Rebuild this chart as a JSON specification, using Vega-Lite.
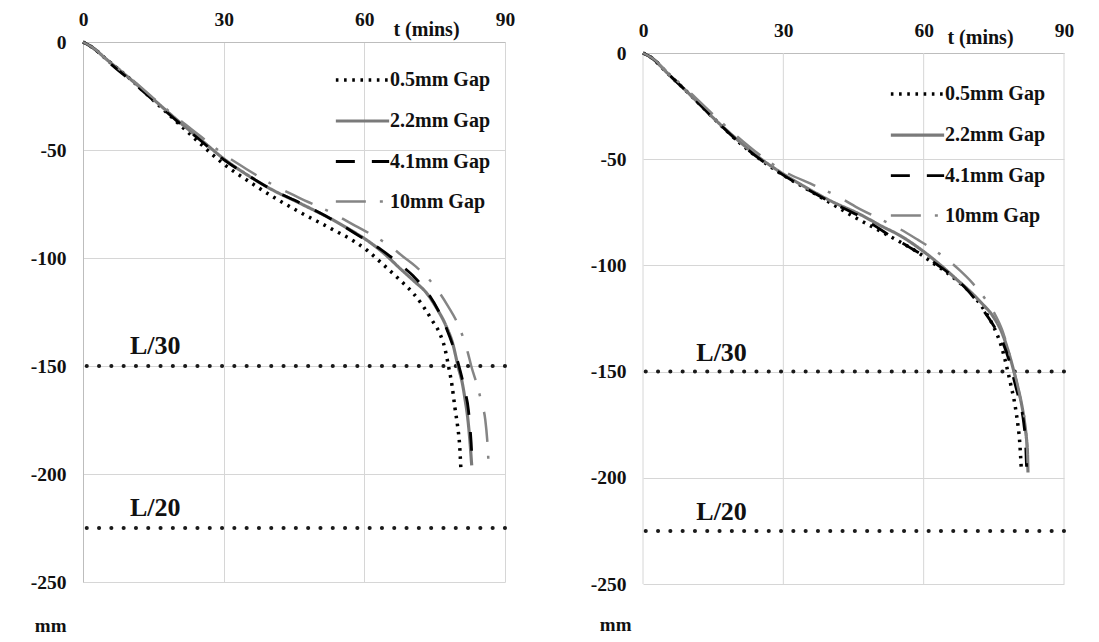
{
  "$schema": "https://vega.github.io/schema/vega-lite/v6.json",
  "background": "white",
  "padding": {"left": 30, "top": 9, "right": 0, "bottom": 0},
  "spacing": 75,
  "resolve": {
    "scale": {"color": "independent", "strokeDash": "independent", "strokeWidth": "independent"},
    "legend": {"color": "independent", "strokeDash": "independent", "strokeWidth": "independent"}
  },
  "config": {
    "view": {"stroke": null},
    "font": "Liberation Serif",
    "text": {"font": "Liberation Serif"}
  },
  "datasets": {
    "lim": [
      {"mm": -150, "label": "L/30"},
      {"mm": -225, "label": "L/20"}
    ],
    "vg": [{"t": 0}, {"t": 30}, {"t": 60}, {"t": 90}],
    "L": [
      {"s": "0.5mm Gap", "t": 0, "mm": 0}, {"s": "0.5mm Gap", "t": 2, "mm": -2.5}, {"s": "0.5mm Gap", "t": 5, "mm": -8}, {"s": "0.5mm Gap", "t": 10, "mm": -17}, {"s": "0.5mm Gap", "t": 15, "mm": -27}, {"s": "0.5mm Gap", "t": 20, "mm": -37}, {"s": "0.5mm Gap", "t": 25, "mm": -47}, {"s": "0.5mm Gap", "t": 30, "mm": -56.5}, {"s": "0.5mm Gap", "t": 35, "mm": -64}, {"s": "0.5mm Gap", "t": 40, "mm": -71}, {"s": "0.5mm Gap", "t": 46, "mm": -78.5}, {"s": "0.5mm Gap", "t": 53, "mm": -86.5}, {"s": "0.5mm Gap", "t": 58, "mm": -92.5}, {"s": "0.5mm Gap", "t": 60.5, "mm": -96.3}, {"s": "0.5mm Gap", "t": 64, "mm": -103}, {"s": "0.5mm Gap", "t": 67.6, "mm": -110.2}, {"s": "0.5mm Gap", "t": 70.5, "mm": -116.5}, {"s": "0.5mm Gap", "t": 72.6, "mm": -122.5}, {"s": "0.5mm Gap", "t": 74.5, "mm": -129}, {"s": "0.5mm Gap", "t": 76.1, "mm": -135}, {"s": "0.5mm Gap", "t": 77.2, "mm": -142}, {"s": "0.5mm Gap", "t": 77.9, "mm": -149.5}, {"s": "0.5mm Gap", "t": 78.7, "mm": -159}, {"s": "0.5mm Gap", "t": 79.3, "mm": -169}, {"s": "0.5mm Gap", "t": 79.9, "mm": -178}, {"s": "0.5mm Gap", "t": 80.3, "mm": -186}, {"s": "0.5mm Gap", "t": 80.6, "mm": -198},
      {"s": "2.2mm Gap", "t": 0, "mm": 0}, {"s": "2.2mm Gap", "t": 2, "mm": -2.5}, {"s": "2.2mm Gap", "t": 5, "mm": -8}, {"s": "2.2mm Gap", "t": 10, "mm": -17}, {"s": "2.2mm Gap", "t": 15, "mm": -26.5}, {"s": "2.2mm Gap", "t": 20, "mm": -36}, {"s": "2.2mm Gap", "t": 25, "mm": -45}, {"s": "2.2mm Gap", "t": 30, "mm": -54}, {"s": "2.2mm Gap", "t": 35, "mm": -61.5}, {"s": "2.2mm Gap", "t": 40, "mm": -68}, {"s": "2.2mm Gap", "t": 46.3, "mm": -74.7}, {"s": "2.2mm Gap", "t": 53.4, "mm": -82.5}, {"s": "2.2mm Gap", "t": 57, "mm": -87}, {"s": "2.2mm Gap", "t": 60.5, "mm": -91.7}, {"s": "2.2mm Gap", "t": 64, "mm": -97.5}, {"s": "2.2mm Gap", "t": 67.6, "mm": -104.8}, {"s": "2.2mm Gap", "t": 70.5, "mm": -110.5}, {"s": "2.2mm Gap", "t": 73.3, "mm": -116.3}, {"s": "2.2mm Gap", "t": 75.5, "mm": -123.5}, {"s": "2.2mm Gap", "t": 77.5, "mm": -131.8}, {"s": "2.2mm Gap", "t": 78.9, "mm": -140}, {"s": "2.2mm Gap", "t": 80, "mm": -150.3}, {"s": "2.2mm Gap", "t": 80.9, "mm": -158}, {"s": "2.2mm Gap", "t": 81.5, "mm": -165.7}, {"s": "2.2mm Gap", "t": 82.1, "mm": -175}, {"s": "2.2mm Gap", "t": 82.5, "mm": -184.3}, {"s": "2.2mm Gap", "t": 82.9, "mm": -196},
      {"s": "4.1mm Gap", "t": 0, "mm": 0}, {"s": "4.1mm Gap", "t": 2, "mm": -2.5}, {"s": "4.1mm Gap", "t": 5, "mm": -8.5}, {"s": "4.1mm Gap", "t": 10, "mm": -17.5}, {"s": "4.1mm Gap", "t": 15, "mm": -27}, {"s": "4.1mm Gap", "t": 20, "mm": -36.5}, {"s": "4.1mm Gap", "t": 25, "mm": -45.5}, {"s": "4.1mm Gap", "t": 30, "mm": -54.5}, {"s": "4.1mm Gap", "t": 35, "mm": -61.5}, {"s": "4.1mm Gap", "t": 40, "mm": -68}, {"s": "4.1mm Gap", "t": 46.3, "mm": -74.5}, {"s": "4.1mm Gap", "t": 53.4, "mm": -82.5}, {"s": "4.1mm Gap", "t": 59.8, "mm": -91}, {"s": "4.1mm Gap", "t": 63.5, "mm": -96}, {"s": "4.1mm Gap", "t": 66.9, "mm": -101.7}, {"s": "4.1mm Gap", "t": 70.5, "mm": -108.5}, {"s": "4.1mm Gap", "t": 73.3, "mm": -115.5}, {"s": "4.1mm Gap", "t": 75.7, "mm": -124}, {"s": "4.1mm Gap", "t": 77.5, "mm": -132.5}, {"s": "4.1mm Gap", "t": 79.1, "mm": -142}, {"s": "4.1mm Gap", "t": 80.4, "mm": -151.9}, {"s": "4.1mm Gap", "t": 81.4, "mm": -161}, {"s": "4.1mm Gap", "t": 82.2, "mm": -170.4}, {"s": "4.1mm Gap", "t": 82.6, "mm": -180}, {"s": "4.1mm Gap", "t": 82.9, "mm": -190.4}, {"s": "4.1mm Gap", "t": 83.0, "mm": -196},
      {"s": "10mm Gap", "t": 0, "mm": 0}, {"s": "10mm Gap", "t": 2, "mm": -2.5}, {"s": "10mm Gap", "t": 5, "mm": -8}, {"s": "10mm Gap", "t": 10, "mm": -16.5}, {"s": "10mm Gap", "t": 15, "mm": -26}, {"s": "10mm Gap", "t": 20, "mm": -35}, {"s": "10mm Gap", "t": 25, "mm": -43.5}, {"s": "10mm Gap", "t": 30, "mm": -52}, {"s": "10mm Gap", "t": 35, "mm": -59}, {"s": "10mm Gap", "t": 40, "mm": -65.5}, {"s": "10mm Gap", "t": 46, "mm": -72}, {"s": "10mm Gap", "t": 53, "mm": -79}, {"s": "10mm Gap", "t": 58, "mm": -85}, {"s": "10mm Gap", "t": 62.3, "mm": -90.1}, {"s": "10mm Gap", "t": 65.5, "mm": -94.5}, {"s": "10mm Gap", "t": 68.3, "mm": -99.4}, {"s": "10mm Gap", "t": 71, "mm": -104}, {"s": "10mm Gap", "t": 73.6, "mm": -109.4}, {"s": "10mm Gap", "t": 76, "mm": -116}, {"s": "10mm Gap", "t": 77.9, "mm": -122.5}, {"s": "10mm Gap", "t": 79.6, "mm": -129}, {"s": "10mm Gap", "t": 81.1, "mm": -137}, {"s": "10mm Gap", "t": 82.1, "mm": -144}, {"s": "10mm Gap", "t": 82.8, "mm": -150}, {"s": "10mm Gap", "t": 84.2, "mm": -160}, {"s": "10mm Gap", "t": 85.0, "mm": -167}, {"s": "10mm Gap", "t": 85.8, "mm": -175}, {"s": "10mm Gap", "t": 86.2, "mm": -184}, {"s": "10mm Gap", "t": 86.4, "mm": -191}, {"s": "10mm Gap", "t": 86.5, "mm": -197}
    ],
    "R": [
      {"s": "0.5mm Gap", "t": 0, "mm": 0}, {"s": "0.5mm Gap", "t": 2, "mm": -2.5}, {"s": "0.5mm Gap", "t": 5, "mm": -9}, {"s": "0.5mm Gap", "t": 10, "mm": -19.5}, {"s": "0.5mm Gap", "t": 15, "mm": -30.5}, {"s": "0.5mm Gap", "t": 20, "mm": -41}, {"s": "0.5mm Gap", "t": 25, "mm": -50}, {"s": "0.5mm Gap", "t": 30, "mm": -57.5}, {"s": "0.5mm Gap", "t": 35, "mm": -64}, {"s": "0.5mm Gap", "t": 40, "mm": -70.5}, {"s": "0.5mm Gap", "t": 45, "mm": -77}, {"s": "0.5mm Gap", "t": 50, "mm": -83}, {"s": "0.5mm Gap", "t": 55, "mm": -89}, {"s": "0.5mm Gap", "t": 58.5, "mm": -93.5}, {"s": "0.5mm Gap", "t": 62.1, "mm": -99}, {"s": "0.5mm Gap", "t": 65, "mm": -103.5}, {"s": "0.5mm Gap", "t": 67.8, "mm": -108.4}, {"s": "0.5mm Gap", "t": 70.5, "mm": -114}, {"s": "0.5mm Gap", "t": 72.7, "mm": -120.2}, {"s": "0.5mm Gap", "t": 74.3, "mm": -126}, {"s": "0.5mm Gap", "t": 75.6, "mm": -132}, {"s": "0.5mm Gap", "t": 76.6, "mm": -138}, {"s": "0.5mm Gap", "t": 77.4, "mm": -144.5}, {"s": "0.5mm Gap", "t": 78.1, "mm": -151}, {"s": "0.5mm Gap", "t": 78.7, "mm": -157}, {"s": "0.5mm Gap", "t": 79.3, "mm": -163}, {"s": "0.5mm Gap", "t": 79.8, "mm": -169.6}, {"s": "0.5mm Gap", "t": 80.2, "mm": -176}, {"s": "0.5mm Gap", "t": 80.5, "mm": -182.2}, {"s": "0.5mm Gap", "t": 80.7, "mm": -189}, {"s": "0.5mm Gap", "t": 80.9, "mm": -197},
      {"s": "2.2mm Gap", "t": 0, "mm": 0}, {"s": "2.2mm Gap", "t": 2, "mm": -2.5}, {"s": "2.2mm Gap", "t": 5, "mm": -9}, {"s": "2.2mm Gap", "t": 10, "mm": -19.5}, {"s": "2.2mm Gap", "t": 15, "mm": -30.5}, {"s": "2.2mm Gap", "t": 20, "mm": -40.5}, {"s": "2.2mm Gap", "t": 25, "mm": -49.5}, {"s": "2.2mm Gap", "t": 30, "mm": -57}, {"s": "2.2mm Gap", "t": 35, "mm": -63.5}, {"s": "2.2mm Gap", "t": 40, "mm": -69.5}, {"s": "2.2mm Gap", "t": 46.4, "mm": -76}, {"s": "2.2mm Gap", "t": 51, "mm": -81.5}, {"s": "2.2mm Gap", "t": 55, "mm": -86}, {"s": "2.2mm Gap", "t": 60, "mm": -93.5}, {"s": "2.2mm Gap", "t": 64.2, "mm": -101}, {"s": "2.2mm Gap", "t": 67, "mm": -106.5}, {"s": "2.2mm Gap", "t": 69.8, "mm": -112}, {"s": "2.2mm Gap", "t": 72.5, "mm": -118}, {"s": "2.2mm Gap", "t": 74.9, "mm": -124.2}, {"s": "2.2mm Gap", "t": 76.8, "mm": -132}, {"s": "2.2mm Gap", "t": 78.3, "mm": -142}, {"s": "2.2mm Gap", "t": 79.3, "mm": -150}, {"s": "2.2mm Gap", "t": 80.1, "mm": -157.1}, {"s": "2.2mm Gap", "t": 80.9, "mm": -165}, {"s": "2.2mm Gap", "t": 81.5, "mm": -172.8}, {"s": "2.2mm Gap", "t": 81.9, "mm": -180}, {"s": "2.2mm Gap", "t": 82.2, "mm": -188.5}, {"s": "2.2mm Gap", "t": 82.3, "mm": -197.5},
      {"s": "4.1mm Gap", "t": 0, "mm": 0}, {"s": "4.1mm Gap", "t": 2, "mm": -2.5}, {"s": "4.1mm Gap", "t": 5, "mm": -9}, {"s": "4.1mm Gap", "t": 10, "mm": -19.5}, {"s": "4.1mm Gap", "t": 15, "mm": -30.5}, {"s": "4.1mm Gap", "t": 20, "mm": -41}, {"s": "4.1mm Gap", "t": 25, "mm": -50}, {"s": "4.1mm Gap", "t": 30, "mm": -57.5}, {"s": "4.1mm Gap", "t": 35, "mm": -64}, {"s": "4.1mm Gap", "t": 40, "mm": -70}, {"s": "4.1mm Gap", "t": 46.4, "mm": -77}, {"s": "4.1mm Gap", "t": 50, "mm": -82}, {"s": "4.1mm Gap", "t": 53.5, "mm": -87}, {"s": "4.1mm Gap", "t": 57, "mm": -91.5}, {"s": "4.1mm Gap", "t": 60, "mm": -95.5}, {"s": "4.1mm Gap", "t": 63.3, "mm": -100.3}, {"s": "4.1mm Gap", "t": 66.3, "mm": -105.3}, {"s": "4.1mm Gap", "t": 69.5, "mm": -112}, {"s": "4.1mm Gap", "t": 72.7, "mm": -121}, {"s": "4.1mm Gap", "t": 75, "mm": -128.5}, {"s": "4.1mm Gap", "t": 77, "mm": -136.7}, {"s": "4.1mm Gap", "t": 78.3, "mm": -145}, {"s": "4.1mm Gap", "t": 79.5, "mm": -155.5}, {"s": "4.1mm Gap", "t": 80.6, "mm": -165}, {"s": "4.1mm Gap", "t": 81.4, "mm": -174.3}, {"s": "4.1mm Gap", "t": 81.8, "mm": -184}, {"s": "4.1mm Gap", "t": 82.0, "mm": -194.8}, {"s": "4.1mm Gap", "t": 82.1, "mm": -198},
      {"s": "10mm Gap", "t": 0, "mm": 0}, {"s": "10mm Gap", "t": 2, "mm": -2.5}, {"s": "10mm Gap", "t": 5, "mm": -8.5}, {"s": "10mm Gap", "t": 10, "mm": -18.5}, {"s": "10mm Gap", "t": 15, "mm": -29}, {"s": "10mm Gap", "t": 20, "mm": -39}, {"s": "10mm Gap", "t": 25, "mm": -48}, {"s": "10mm Gap", "t": 30, "mm": -55.5}, {"s": "10mm Gap", "t": 36.7, "mm": -62.4}, {"s": "10mm Gap", "t": 42, "mm": -68}, {"s": "10mm Gap", "t": 46.4, "mm": -73.5}, {"s": "10mm Gap", "t": 51, "mm": -78.5}, {"s": "10mm Gap", "t": 55, "mm": -83}, {"s": "10mm Gap", "t": 58.8, "mm": -88}, {"s": "10mm Gap", "t": 62.2, "mm": -92.7}, {"s": "10mm Gap", "t": 65.2, "mm": -97.5}, {"s": "10mm Gap", "t": 67.8, "mm": -102.5}, {"s": "10mm Gap", "t": 70.3, "mm": -108}, {"s": "10mm Gap", "t": 72.7, "mm": -114.4}, {"s": "10mm Gap", "t": 75, "mm": -122}, {"s": "10mm Gap", "t": 76.8, "mm": -130.5}, {"s": "10mm Gap", "t": 78.1, "mm": -139.8}, {"s": "10mm Gap", "t": 79.1, "mm": -148}, {"s": "10mm Gap", "t": 79.9, "mm": -155}, {"s": "10mm Gap", "t": 80.8, "mm": -164}, {"s": "10mm Gap", "t": 81.4, "mm": -170}, {"s": "10mm Gap", "t": 81.8, "mm": -176}, {"s": "10mm Gap", "t": 82.1, "mm": -186}, {"s": "10mm Gap", "t": 82.3, "mm": -197.5}
    ]
  },
  "hconcat": [
    {
      "width": 422,
      "height": 540,
      "layer": [
        {
          "data": {"name": "lim"},
          "mark": {"type": "rule", "color": "#1a1a1a", "strokeWidth": 4, "strokeDash": [0.1, 12.2], "strokeCap": "round"},
          "encoding": {"y": {"field": "mm", "type": "quantitative"}}
        },
        {
          "data": {"name": "lim"},
          "mark": {"type": "text", "fontSize": 26, "fontWeight": "bold", "color": "#111", "dy": -20, "align": "center", "baseline": "middle"},
          "encoding": {
            "x": {"datum": 15.4, "type": "quantitative"},
            "y": {"field": "mm", "type": "quantitative"},
            "text": {"field": "label"}
          }
        },
        {
          "data": {"name": "L"},
          "mark": {"type": "line", "interpolate": "monotone", "strokeCap": "butt", "strokeJoin": "round"},
          "encoding": {
            "x": {"field": "t", "type": "quantitative", "scale": {"domain": [0, 90], "nice": false},
              "axis": {"orient": "top", "values": [0, 30, 60, 90], "grid": true, "gridColor": "#d6d6d6", "domainColor": "#bdbdbd", "ticks": false, "tickSize": 0, "labelFont": "Liberation Serif", "labelFontSize": 19.5, "labelFontWeight": "bold", "labelColor": "#111", "labelPadding": 17, "labelBaseline": "alphabetic", "labelFlush": false, "title": "t (mins)", "titleFont": "Liberation Serif", "titleFontSize": 20, "titleFontWeight": "bold", "titleColor": "#111", "titleX": 343, "titleY": -13, "titleAlign": "center", "titleBaseline": "middle", "titleAngle": 0}},
            "y": {"field": "mm", "type": "quantitative", "scale": {"domain": [-250, 0], "nice": false, "zero": false},
              "axis": {"values": [0, -50, -100, -150, -200, -250], "labelExpr": "'' + datum.value", "grid": true, "gridColor": "#d6d6d6", "domainColor": "#bdbdbd", "ticks": false, "tickSize": 0, "labelFont": "Liberation Serif", "labelFontSize": 19.5, "labelFontWeight": "bold", "labelColor": "#111", "labelPadding": 17, "title": "mm", "titleFont": "Liberation Serif", "titleFontSize": 19, "titleFontWeight": "bold", "titleColor": "#111", "titleAngle": 0, "titleX": -17, "titleY": 583, "titleAlign": "right", "titleBaseline": "middle"}},
            "color": {"field": "s", "type": "nominal", "scale": {"domain": ["0.5mm Gap", "2.2mm Gap", "4.1mm Gap", "10mm Gap"], "range": ["#000000", "#7a7a7a", "#000000", "#858585"]},
              "legend": {"title": null, "orient": "none", "legendX": 253, "legendY": 11.5, "symbolType": "M-1.3,0L1.3,0", "symbolSize": 1681, "labelFont": "Liberation Serif", "labelFontSize": 20, "labelFontWeight": "bold", "labelColor": "#111", "rowPadding": 8, "labelOffset": 5, "padding": 4}},
            "strokeDash": {"field": "s", "type": "nominal", "scale": {"domain": ["0.5mm Gap", "2.2mm Gap", "4.1mm Gap", "10mm Gap"], "range": [[2.6, 5.6], [1, 0], [19, 17], [30, 14, 3, 16]]},
              "legend": {"title": null, "orient": "none", "legendX": 253, "legendY": 11.5, "symbolType": "M-1.3,0L1.3,0", "symbolSize": 1681, "labelFont": "Liberation Serif", "labelFontSize": 20, "labelFontWeight": "bold", "labelColor": "#111", "rowPadding": 8, "labelOffset": 5, "padding": 4}},
            "strokeWidth": {"field": "s", "type": "nominal", "scale": {"domain": ["0.5mm Gap", "2.2mm Gap", "4.1mm Gap", "10mm Gap"], "range": [3.5, 2.5, 5.5, 3]},
              "legend": {"title": null, "orient": "none", "legendX": 253, "legendY": 11.5, "symbolType": "M-1.3,0L1.3,0", "symbolSize": 1681, "labelFont": "Liberation Serif", "labelFontSize": 20, "labelFontWeight": "bold", "labelColor": "#111", "rowPadding": 8, "labelOffset": 5, "padding": 4}}
          }
        }
      ]
    },
    {
      "width": 421,
      "height": 542,
      "layer": [
        {
          "data": {"name": "vg"},
          "mark": {"type": "rule", "color": "#d6d6d6", "strokeWidth": 1},
          "encoding": {
            "x": {"field": "t", "type": "quantitative"},
            "y": {"datum": 0, "type": "quantitative"},
            "y2": {"datum": -250}
          }
        },
        {
          "data": {"name": "lim"},
          "mark": {"type": "rule", "color": "#1a1a1a", "strokeWidth": 4, "strokeDash": [0.1, 12.2], "strokeCap": "round"},
          "encoding": {"y": {"field": "mm", "type": "quantitative"}}
        },
        {
          "data": {"name": "lim"},
          "mark": {"type": "text", "fontSize": 26, "fontWeight": "bold", "color": "#111", "dy": -18.5, "align": "center", "baseline": "middle"},
          "encoding": {
            "x": {"datum": 16.8, "type": "quantitative"},
            "y": {"field": "mm", "type": "quantitative"},
            "text": {"field": "label"}
          }
        },
        {
          "data": {"name": "R"},
          "mark": {"type": "line", "interpolate": "monotone", "strokeCap": "butt", "strokeJoin": "round"},
          "encoding": {
            "x": {"field": "t", "type": "quantitative", "scale": {"domain": [0, 90], "nice": false},
              "axis": {"orient": "top", "offset": -11, "values": [0, 30, 60, 90], "grid": false, "domainColor": "#bdbdbd", "ticks": false, "tickSize": 0, "labelFont": "Liberation Serif", "labelFontSize": 19.5, "labelFontWeight": "bold", "labelColor": "#111", "labelPadding": 17, "labelBaseline": "alphabetic", "labelFlush": false, "title": "t (mins)", "titleFont": "Liberation Serif", "titleFontSize": 20, "titleFontWeight": "bold", "titleColor": "#111", "titleX": 337, "titleY": -16, "titleAlign": "center", "titleBaseline": "middle", "titleAngle": 0}},
            "y": {"field": "mm", "type": "quantitative", "scale": {"domain": [-250, 5.18], "nice": false, "zero": false},
              "axis": {"values": [0, -50, -100, -150, -200, -250], "labelExpr": "'' + datum.value", "grid": true, "gridColor": "#d6d6d6", "domain": false, "ticks": false, "tickSize": 0, "labelFont": "Liberation Serif", "labelFontSize": 19.5, "labelFontWeight": "bold", "labelColor": "#111", "labelPadding": 17, "title": "mm", "titleFont": "Liberation Serif", "titleFontSize": 19, "titleFontWeight": "bold", "titleColor": "#111", "titleAngle": 0, "titleX": -12, "titleY": 582, "titleAlign": "right", "titleBaseline": "middle"}},
            "color": {"field": "s", "type": "nominal", "scale": {"domain": ["0.5mm Gap", "2.2mm Gap", "4.1mm Gap", "10mm Gap"], "range": ["#000000", "#7a7a7a", "#000000", "#858585"]},
              "legend": {"title": null, "orient": "none", "legendX": 248, "legendY": 25.6, "symbolType": "M-1.3,0L1.3,0", "symbolSize": 1681, "labelFont": "Liberation Serif", "labelFontSize": 20, "labelFontWeight": "bold", "labelColor": "#111", "rowPadding": 8, "labelOffset": 5, "padding": 4}},
            "strokeDash": {"field": "s", "type": "nominal", "scale": {"domain": ["0.5mm Gap", "2.2mm Gap", "4.1mm Gap", "10mm Gap"], "range": [[2.6, 5.6], [1, 0], [19, 17], [30, 14, 3, 16]]},
              "legend": {"title": null, "orient": "none", "legendX": 248, "legendY": 25.6, "symbolType": "M-1.3,0L1.3,0", "symbolSize": 1681, "labelFont": "Liberation Serif", "labelFontSize": 20, "labelFontWeight": "bold", "labelColor": "#111", "rowPadding": 8, "labelOffset": 5, "padding": 4}},
            "strokeWidth": {"field": "s", "type": "nominal", "scale": {"domain": ["0.5mm Gap", "2.2mm Gap", "4.1mm Gap", "10mm Gap"], "range": [3.5, 2.5, 5.5, 3]},
              "legend": {"title": null, "orient": "none", "legendX": 248, "legendY": 25.6, "symbolType": "M-1.3,0L1.3,0", "symbolSize": 1681, "labelFont": "Liberation Serif", "labelFontSize": 20, "labelFontWeight": "bold", "labelColor": "#111", "rowPadding": 8, "labelOffset": 5, "padding": 4}}
          }
        }
      ]
    }
  ]
}
